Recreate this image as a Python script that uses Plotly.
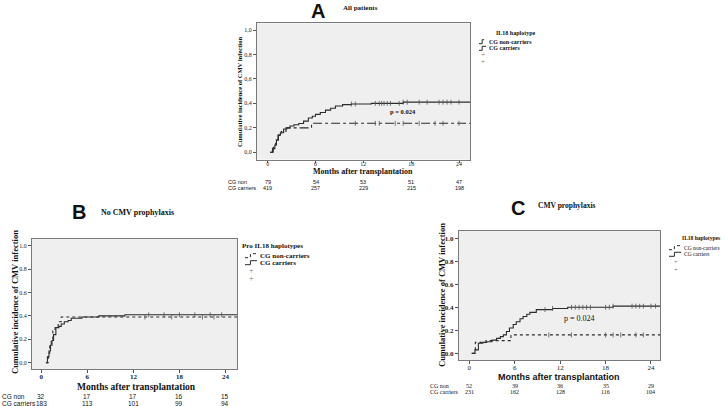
import numpy as np
import plotly.graph_objects as go

W, H = 727, 406
def px(x): return x / W
def py(y): return 1 - y / H

# ---------------- data ----------------
months_ticks = [0, 6, 12, 18, 24]

# Panel A: all patients
A_car_t = [0.3, 0.6, 0.9, 1.1, 1.35, 1.6, 2.0, 2.4, 2.8, 3.3, 3.9, 4.5, 5.1, 5.6, 6.0, 6.6, 7.25, 7.9, 8.5, 9.4, 10.5, 13.0, 17.0, 25.4]
A_car_y = [0.0, 0.03, 0.06, 0.10, 0.14, 0.16, 0.19, 0.20, 0.215, 0.225, 0.235, 0.255, 0.28, 0.295, 0.31, 0.325, 0.345, 0.36, 0.378, 0.39, 0.395, 0.40, 0.41, 0.41]
A_non_t = [0.3, 0.7, 1.0, 1.3, 1.7, 2.3, 5.5, 25.4]
A_non_y = [0.0, 0.04, 0.10, 0.14, 0.17, 0.20, 0.237, 0.237]
A_car_cens = [10.5, 11.0, 13.5, 14.0, 14.3, 14.6, 15.0, 15.4, 16.5, 17.0, 17.5, 19.0, 20.0, 21.5, 22.0, 22.5, 23.0, 24.0]
A_non_cens = [11.0, 13.5, 14.0, 16.0, 17.0, 19.0, 21.0, 22.0, 24.0]
A_risk_non = [79, 54, 53, 51, 47]
A_risk_car = [419, 257, 229, 215, 198]

# Panel B: no CMV prophylaxis
B_car_t = [0.6, 0.8, 1.0, 1.2, 1.4, 1.6, 1.9, 2.3, 2.6, 3.0, 3.5, 3.9, 5.3, 7.5, 10.9, 25.5]
B_car_y = [0.0, 0.05, 0.10, 0.15, 0.19, 0.24, 0.30, 0.31, 0.33, 0.35, 0.36, 0.38, 0.39, 0.40, 0.41, 0.41]
B_non_t = [0.6, 0.9, 1.1, 1.3, 1.5, 1.8, 2.2, 2.6, 25.5]
B_non_y = [0.0, 0.08, 0.15, 0.20, 0.28, 0.30, 0.35, 0.39, 0.39]
B_car_cens = [14.0, 16.0, 18.0, 20.0, 22.0, 23.5]
B_non_cens = [13.5, 17.0, 21.0, 22.5]
B_risk_non = [32, 17, 17, 16, 15]
B_risk_car = [183, 113, 101, 99, 94]

# Panel C: CMV prophylaxis
C_car_t = [0.3, 0.75, 1.2, 1.8, 2.3, 3.0, 3.6, 4.1, 4.5, 4.9, 5.3, 5.8, 6.2, 6.7, 7.1, 7.6, 8.0, 8.85, 11.0, 13.0, 19.0, 25.2]
C_car_y = [0.0, 0.03, 0.087, 0.095, 0.10, 0.115, 0.13, 0.145, 0.16, 0.19, 0.22, 0.25, 0.275, 0.30, 0.32, 0.34, 0.356, 0.38, 0.39, 0.40, 0.41, 0.41]
C_non_t = [0.4, 0.8, 2.2, 5.5, 25.2]
C_non_y = [0.0, 0.095, 0.11, 0.16, 0.16]
C_car_cens = [10.0, 11.0, 13.5, 14.0, 14.5, 15.0, 15.5, 16.0, 18.0, 18.5, 19.0, 21.5, 22.0, 22.5, 23.0, 24.0, 24.6]
C_non_cens = [10.5, 13.5, 18.0, 19.0, 20.0, 22.0, 23.0]
C_risk_non = [52, 39, 36, 35, 29]
C_risk_car = [231, 162, 128, 116, 104]

# ---------------- figure ----------------
fig = go.Figure()
LINE_COL = "#2b2b2b"
SERIF = "Liberation Serif"
SANS = "Liberation Sans"

def step_at(ts, ys, t):
    i = np.searchsorted(np.array(ts), t, side="right") - 1
    return ys[max(i, 0)]

def add_curve(xa, ya, t, y, dash, cens):
    fig.add_trace(go.Scatter(x=t, y=y, mode="lines", line=dict(color=LINE_COL, width=1.1, shape="hv", dash=dash),
                             xaxis=xa, yaxis=ya, hoverinfo="skip"))
    fig.add_trace(go.Scatter(x=cens, y=[step_at(t, y, c) for c in cens], mode="markers",
                             marker=dict(symbol="line-ns-open", size=3.5, color="#555",
                                         line=dict(color="#555", width=0.8)),
                             xaxis=xa, yaxis=ya, hoverinfo="skip"))

add_curve("x", "y", A_car_t, A_car_y, "solid", A_car_cens)
add_curve("x", "y", A_non_t, A_non_y, "dashdot", A_non_cens)
add_curve("x2", "y2", B_car_t, B_car_y, "solid", B_car_cens)
add_curve("x2", "y2", B_non_t, B_non_y, "dot", B_non_cens)
add_curve("x3", "y3", C_car_t, C_car_y, "solid", C_car_cens)
add_curve("x3", "y3", C_non_t, C_non_y, "dot", C_non_cens)

yt = [0, 0.2, 0.4, 0.6, 0.8, 1.0]
def axis_common(fs, tl=3):
    return dict(showgrid=False, zeroline=False, showline=True, mirror=True, linecolor="#7a7a7a", linewidth=1,
                ticks="outside", ticklen=tl, tickcolor="#555", tickfont=dict(family=SERIF, size=fs, color="#222"))

# panel geometry (pixels)
A_box = (257, 470, 23.3, 159.5); B_box = (32, 237, 239, 369); C_box = (459, 660, 231, 360)

fig.update_layout(
    width=W, height=H, margin=dict(l=0, r=0, t=0, b=0), paper_bgcolor="white", plot_bgcolor="#efefef",
    showlegend=False,
    xaxis=dict(domain=[px(A_box[0]), px(A_box[1])], range=[-1.34, 25.38], anchor="y", tickvals=months_ticks,
               ticktext=[str(v) for v in months_ticks], ticklabelstandoff=-4, **axis_common(6, 2)),
    yaxis=dict(domain=[py(A_box[3]), py(A_box[2])], range=[-0.059, 1.055], anchor="x", tickvals=yt,
               ticktext=[f"{v:.1f}".replace(".", ",") for v in yt], **axis_common(6)),
    xaxis2=dict(domain=[px(B_box[0]), px(B_box[1])], range=[-1.21, 25.5], anchor="y2", tickvals=months_ticks,
                ticktext=[f"<b>{v}</b>" for v in months_ticks], ticklabelstandoff=-2, **axis_common(7)),
    yaxis2=dict(domain=[py(B_box[3]), py(B_box[2])], range=[-0.054, 1.057], anchor="x2", tickvals=yt,
                ticktext=[f"{v:.1f}" for v in yt], **axis_common(6)),
    xaxis3=dict(domain=[px(C_box[0]), px(C_box[1])], range=[-1.36, 25.19], anchor="y3", tickvals=months_ticks,
                ticktext=[str(v) for v in months_ticks], ticklabelstandoff=-2, **axis_common(7)),
    yaxis3=dict(domain=[py(C_box[3]), py(C_box[2])], range=[-0.058, 1.063], anchor="x3", tickvals=yt,
                ticktext=[f"<b>{v:.1f}</b>" for v in yt], **axis_common(7)),
)

ann = []
def text(x, y, s, size, family=SERIF, bold=True, xanchor="center", angle=0, xref="paper", yref="paper", color="#111"):
    ann.append(dict(x=x, y=y, xref=xref, yref=yref, text=(f"<b>{s}</b>" if bold else s), showarrow=False,
                    font=dict(family=family, size=size, color=color), xanchor=xanchor, yanchor="middle",
                    textangle=angle))

# Titles
text(px(318), py(11), "A", 20, family=SANS)
text(px(360), py(8), "All patients", 7)
text(px(79), py(212), "B", 20, family=SANS)
text(px(137), py(212), "No CMV prophylaxis", 8)
text(px(518), py(208), "C", 20, family=SANS)
text(px(567), py(205), "CMV prophylaxis", 7.5)

# Axis titles
text(px(363), py(172), "Months after transplantation", 8)
text(px(136), py(387), "Months after transplantation", 9.5)
text(px(559), py(377), "Months after transplantation", 9, family=SANS)
text(px(240), py(92), "Cumulative incidence of CMV infection", 6.5, angle=-90)
text(px(15), py(302), "Cumulative incidence of CMV infection", 8.5, angle=-90)
text(px(442), py(295), "Cumulative incidence of CMV infection", 8.5, angle=-90)

# p values
text(17, 0.33, "p = 0.024", 6.5, xref="x", yref="y")
text(14.6, 0.30, "p = 0.024", 8, bold=False, xref="x3", yref="y3")

# Risk tables
def risk(xr, lab_x, y1, y2, non, car, fs, fam):
    text(px(lab_x), py(y1), "CG non", fs, family=fam, bold=False, xanchor="left")
    text(px(lab_x), py(y2), "CG carriers", fs, family=fam, bold=False, xanchor="left")
    for m, a, b in zip(months_ticks, non, car):
        text(m, py(y1), str(a), fs, family=fam, bold=False, xref=xr)
        text(m, py(y2), str(b), fs, family=fam, bold=False, xref=xr)

risk("x", 226, 181.5, 188.3, A_risk_non, A_risk_car, 5.5, SANS)
risk("x2", 0, 396.7, 403.5, B_risk_non, B_risk_car, 6.5, SANS)
risk("x3", 428, 385.7, 392.3, C_risk_non, C_risk_car, 6, SERIF)

# Legends
shapes = []
def legend(title, tx, ty, t_anchor, sx, lx, y1, y2, yp1, yp2, fs, dash, bold=True):
    text(px(tx), py(ty), title, fs, xanchor=t_anchor)
    text(px(lx), py(y1), "CG non-carriers", fs, xanchor="left", bold=bold)
    text(px(lx), py(y2), "CG carriers", fs, xanchor="left", bold=bold)
    for yy, d in ((y1, dash), (y2, "solid")):
        x0, x1 = sx, lx - 1
        xm = x0 + (x1 - x0) * 0.45
        path = f"M {px(x0)},{py(yy+2)} L {px(xm)},{py(yy+2)} L {px(xm)},{py(yy-2)} L {px(x1)},{py(yy-2)}"
        shapes.append(dict(type="path", xref="paper", yref="paper", path=path,
                           line=dict(color=LINE_COL, width=1, dash=d)))
    xp = sx + (lx - sx) * 0.5
    text(px(xp), py(yp1), "+", fs + 1, bold=False, color="#777")
    text(px(xp), py(yp2), "+", fs + 1, bold=False, color="#777")

legend("IL18 haplotype", 516, 33.3, "center", 479, 487, 41.7, 48.3, 54.8, 61.5, 6, "dashdot")
legend("Pro IL18 haplotypes", 240, 245.7, "left", 245, 258, 255.7, 262.7, 270.5, 278.5, 7, "dot")
legend("IL18 haplotypes", 680, 237.7, "left", 669, 682, 247.7, 254.3, 261.5, 269, 5.5, "dot", bold=False)

fig.update_layout(annotations=ann, shapes=shapes)
fig.write_html("out.html", config={"displayModeBar": False},
               post_script="document.body.style.margin='0px';document.body.style.overflow='hidden';")
